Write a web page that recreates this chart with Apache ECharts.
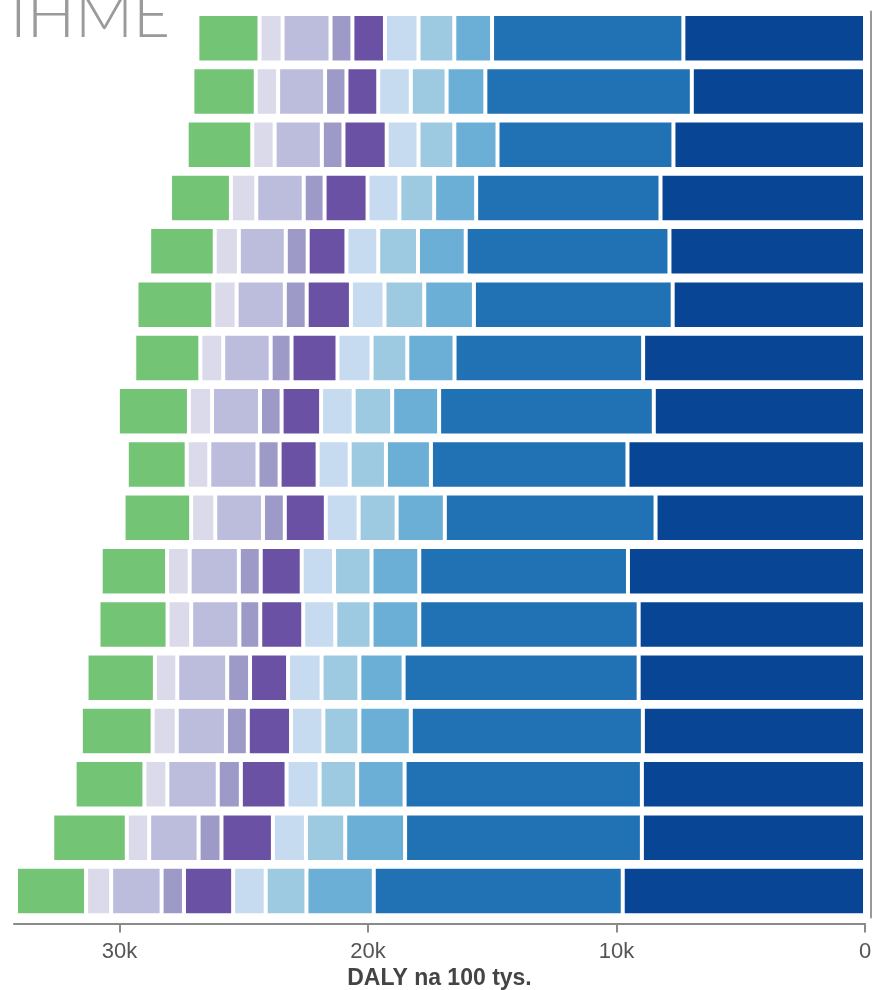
<!DOCTYPE html>
<html>
<head>
<meta charset="utf-8">
<script src="https://cdn.jsdelivr.net/npm/echarts@6/dist/echarts.min.js"></script>
<style>
html,body{margin:0;padding:0;background:#fff;}
#chart{width:874px;height:990px;}
</style>
</head>
<body>
<div id="chart"></div>
<script>
// Rows from top to bottom (labels are not visible in the reference)
const categories = ['1','2','3','4','5','6','7','8','9','10','11','12','13','14','15','16','17'];

// Segments, stacked from 0 (right) outwards (DALY per 100k)
const darkBlue   = [7310, 6970, 7710, 8230, 7870, 7740, 8930, 8500, 9560, 8430, 9540, 9110, 9110, 8940, 8980, 8980, 9750];
const blue       = [7700, 8310, 7080, 7420, 8200, 8000, 7590, 8640, 7910, 8480, 8400, 8830, 9460, 9340, 9550, 9530, 10020];
const midBlue    = [1520, 1560, 1740, 1690, 1920, 2000, 1900, 1890, 1810, 1940, 1920, 1920, 1780, 2070, 1910, 2410, 2710];
const lightBlue2 = [1440, 1440, 1440, 1400, 1600, 1600, 1440, 1550, 1460, 1530, 1510, 1460, 1520, 1450, 1510, 1580, 1640];
const lightBlue1 = [1350, 1310, 1280, 1280, 1280, 1350, 1370, 1310, 1290, 1320, 1300, 1290, 1350, 1300, 1330, 1330, 1310];
const darkPurple = [1310, 1280, 1740, 1730, 1560, 1780, 1850, 1590, 1530, 1650, 1650, 1730, 1530, 1740, 1840, 2070, 1980];
const midPurple  = [880, 860, 870, 840, 880, 880, 840, 870, 890, 880, 880, 840, 920, 880, 930, 920, 900];
const lightPurple= [1930, 1890, 1900, 1910, 1890, 1940, 1910, 1930, 1940, 1920, 1980, 1940, 2010, 1980, 2030, 1990, 2030];
const palePurple = [930, 900, 900, 1020, 970, 940, 920, 930, 910, 970, 910, 950, 900, 970, 920, 900, 1010];
const green      = [2500, 2550, 2640, 2450, 2640, 3090, 2660, 2860, 2410, 2720, 2670, 2780, 2750, 2890, 2810, 3000, 2820];

const tickValues = [0, 10000, 20000, 30000];
const tickLabels = ['0', '10k', '20k', '30k'];

const seriesDefs = [
  ['s1', darkBlue,    '#084594'],
  ['s2', blue,        '#2171b5'],
  ['s3', midBlue,     '#6baed6'],
  ['s4', lightBlue2,  '#9ecae1'],
  ['s5', lightBlue1,  '#c6dbef'],
  ['s6', darkPurple,  '#6a51a3'],
  ['s7', midPurple,   '#9e9ac8'],
  ['s8', lightPurple, '#bcbddc'],
  ['s9', palePurple,  '#dadaeb'],
  ['s10', green,      '#74c476']
];

const chart = echarts.init(document.getElementById('chart'), null, {renderer: 'canvas'});
chart.setOption({
  animation: false,
  grid: {left: 14, right: 9, top: 11.5, bottom: 72.4, containLabel: false, outerBoundsMode: 'none'},
  graphic: [{
    type: 'text',
    left: 10, top: -16,
    style: {
      text: 'IHME',
      fontFamily: 'Lato, "Open Sans", sans-serif',
      fontWeight: 300,
      fontSize: 64,
      fill: '#9a9a9a'
    }
  }],
  xAxis: {
    type: 'value',
    inverse: true,
    min: 0,
    max: 34250,
    interval: 10000,
    position: 'bottom',
    offset: 6,
    splitLine: {show: false},
    axisLine: {show: true, lineStyle: {color: '#8a8a8a', width: 2}},
    axisTick: {show: true, length: 9, lineStyle: {color: '#8a8a8a', width: 2}},
    axisLabel: {
      show: true,
      margin: 17,
      fontSize: 22,
      fontFamily: '"Liberation Sans", Arial, sans-serif',
      color: '#555',
      showMaxLabel: false,
      formatter: function (v) {
        const i = tickValues.indexOf(v);
        return i >= 0 ? tickLabels[i] : '';
      }
    },
    name: 'DALY na 100 tys.',
    nameLocation: 'middle',
    nameGap: 42,
    nameTextStyle: {
      fontSize: 23,
      fontWeight: 'bold',
      fontFamily: '"Liberation Sans", Arial, sans-serif',
      color: '#444'
    }
  },
  yAxis: {
    type: 'category',
    data: categories,
    inverse: true,
    position: 'right',
    offset: 6,
    axisLine: {show: true, onZero: false, lineStyle: {color: '#999', width: 2}},
    axisTick: {show: false},
    axisLabel: {show: false},
    splitLine: {show: false}
  },
  series: seriesDefs.map(function (d) {
    return {
      name: d[0],
      type: 'bar',
      stack: 'total',
      data: d[1],
      barCategoryGap: '9%',
      itemStyle: {color: d[2], borderColor: '#fff', borderWidth: 2},
      emphasis: {disabled: true}
    };
  })
});
</script>
</body>
</html>
